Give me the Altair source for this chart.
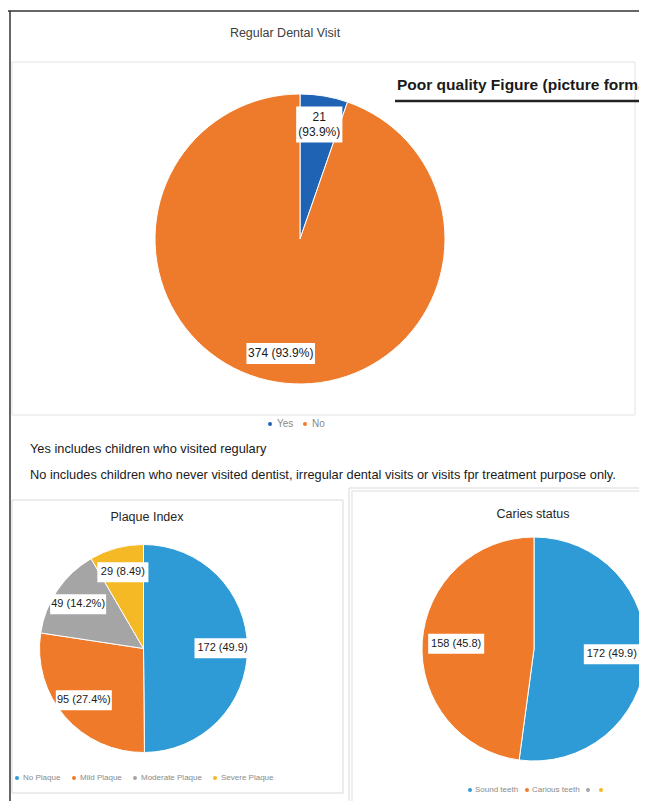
import altair as alt
import pandas as pd

FONT = "Liberation Sans, Arial, sans-serif"

# ---------------- data ----------------
visit_title = "Regular Dental Visit"
visit_cats = ["Yes", "No"]
visit_vals = [21, 374]
visit_labels = ["21\n(93.9%)", "374 (93.9%)"]
visit_colors = ["#1f63b5", "#ee7a2b"]

plaque_title = "Plaque Index"
plaque_cats = ["No Plaque", "Mild Plaque", "Moderate Plaque", "Severe Plaque"]
plaque_vals = [172, 95, 49, 29]
plaque_labels = ["172 (49.9)", "95 (27.4%)", "49 (14.2%)", "29 (8.49)"]
plaque_colors = ["#2e9bd6", "#ef7a2a", "#a5a5a5", "#f5b926"]

caries_title = "Caries status"
caries_cats = ["Sound teeth", "Carious teeth", "\u200b", "\u200b\u200b"]
caries_vals = [172, 158, 0, 0]
caries_labels = ["172 (49.9)", "158 (45.8)", "", ""]
caries_colors = ["#2e9bd6", "#ef7a2a", "#a5a5a5", "#f5b926"]

notes = [
    "Yes includes children who visited regulary",
    "No includes children who never visited dentist, irregular dental visits or visits fpr treatment purpose only.",
]
stamp = "Poor quality Figure (picture format)"

one = pd.DataFrame({"k": [0]})


def pie_layers(cats, vals, labels, colors, cx, cy, r, lab_r, fs, char_w, line_h, legend):
    lines = [s.split("\n") for s in labels]
    df = pd.DataFrame({
        "cat": cats, "value": vals, "label": labels, "idx": list(range(len(cats))),
        "nlines": [len(l) for l in lines],
        "maxlen": [max(len(x) for x in l) for l in lines],
    })
    base = alt.Chart(df)
    arc = base.transform_filter("datum.value > 0").mark_arc(
        outerRadius=r, stroke="white", strokeWidth=1
    ).encode(
        theta=alt.Theta("value:Q", stack=True),
        order=alt.Order("idx:Q"),
        color=alt.Color("cat:N", scale=alt.Scale(domain=cats, range=colors), legend=legend),
        x=alt.value(cx), y=alt.value(cy),
    )
    lab = base.transform_joinaggregate(total="sum(value)").transform_window(
        cum="sum(value)", sort=[alt.SortField("idx", order="ascending")], frame=[None, 0]
    ).transform_filter("datum.value > 0").transform_calculate(
        ang="2*PI*(datum.cum - datum.value/2)/datum.total",
        lx=f"{cx} + {lab_r}*sin(datum.ang)",
        ly=f"{cy} - {lab_r}*cos(datum.ang)",
        bw=f"datum.maxlen*{char_w} + 7",
        bh=f"datum.nlines*{line_h} + 6",
    ).transform_calculate(
        bx1="datum.lx - datum.bw/2", bx2="datum.lx + datum.bw/2",
        by1="datum.ly - datum.bh/2", by2="datum.ly + datum.bh/2",
        ty=f"datum.ly - (datum.nlines - 1)*{line_h}/2",
    )
    box = lab.mark_rect(fill="white").encode(
        x=alt.X("bx1:Q", scale=None, axis=None), x2="bx2:Q",
        y=alt.Y("by1:Q", scale=None, axis=None), y2="by2:Q",
    )
    txt = lab.mark_text(
        font=FONT, fontSize=fs, color="#1a1a1a", lineBreak="\n", lineHeight=line_h,
        baseline="middle", align="center",
    ).encode(
        x=alt.X("lx:Q", scale=None, axis=None), y=alt.Y("ty:Q", scale=None, axis=None),
        text="label:N",
    )
    return [arc, box, txt]


def legend(lx, ly, size, pad, off=2):
    return alt.Legend(
        orient="none", legendX=lx, legendY=ly, direction="horizontal", title=None,
        symbolType="circle", symbolSize=16, symbolStrokeWidth=0, labelFont=FONT,
        labelFontSize=size, labelColor="#8a8a8a", columnPadding=pad, padding=0, labelOffset=off,
    )


def rule(x1, x2, y1, y2, color, w):
    return alt.Chart(one).mark_rule(color=color, strokeWidth=w).encode(
        x=alt.value(x1), x2=alt.value(x2), y=alt.value(y1), y2=alt.value(y2))


def frame(x1, y1, x2, y2, color, w=1):
    return alt.Chart(one).mark_rect(fillOpacity=0, stroke=color, strokeWidth=w).encode(
        x=alt.value(x1), x2=alt.value(x2), y=alt.value(y1), y2=alt.value(y2))


def text(t, x, y, size, color="#262626", weight="normal", align="center"):
    return alt.Chart(pd.DataFrame({"t": [t]})).mark_text(
        font=FONT, fontSize=size, color=color, fontWeight=weight, align=align, baseline="middle"
    ).encode(text="t:N", x=alt.value(x), y=alt.value(y))


layers = [
    # frames
    frame(4, 54, 627, 407, "#e3e3e3"),
    frame(4, 492, 335, 785, "#d9d9d9"),
    frame(344, 483, 662, 797, "#eeeeee", 2),
    frame(341, 480, 660, 794, "#d9d9d9"),
    rule(0, 645, 3, 3, "#333333", 1.5),
    rule(2, 2, 3, 801, "#333333", 1.5),
    # titles & texts
    text(visit_title, 277, 25, 12.5, "#404040"),
    text(stamp, 389, 77, 15.5, "#1a1a1a", "bold", "left"),
    rule(387, 645, 93, 93, "#222222", 2.5),
    text(notes[0], 22, 441, 12.8, "#1a1a1a", align="left"),
    text(notes[1], 22, 467, 12.8, "#1a1a1a", align="left"),
    text(plaque_title, 139, 509, 12.5),
    text(caries_title, 525, 506, 12.5),
]

layers += pie_layers(visit_cats, visit_vals, visit_labels, visit_colors,
                     292, 231, 145, 116, 12, 5.6, 15, legend(257, 411, 10, 6))
layers += pie_layers(plaque_cats, plaque_vals, plaque_labels, plaque_colors,
                     135.5, 640.5, 104, 79, 11, 4.9, 14, legend(5, 766, 8, 9))
layers += pie_layers(caries_cats, caries_vals, caries_labels, caries_colors,
                     526, 641, 112, 78, 11, 4.9, 14, legend(458, 778, 8, 4, 1))

chart = alt.layer(*layers).resolve_scale(
    color="independent", theta="independent"
).properties(
    width=631, height=793, autosize=alt.AutoSizeParams(type="none"), padding=0,
    background="white",
).configure_view(stroke=None)

chart.save("out.html", embed_options={"renderer": "svg", "actions": False})
